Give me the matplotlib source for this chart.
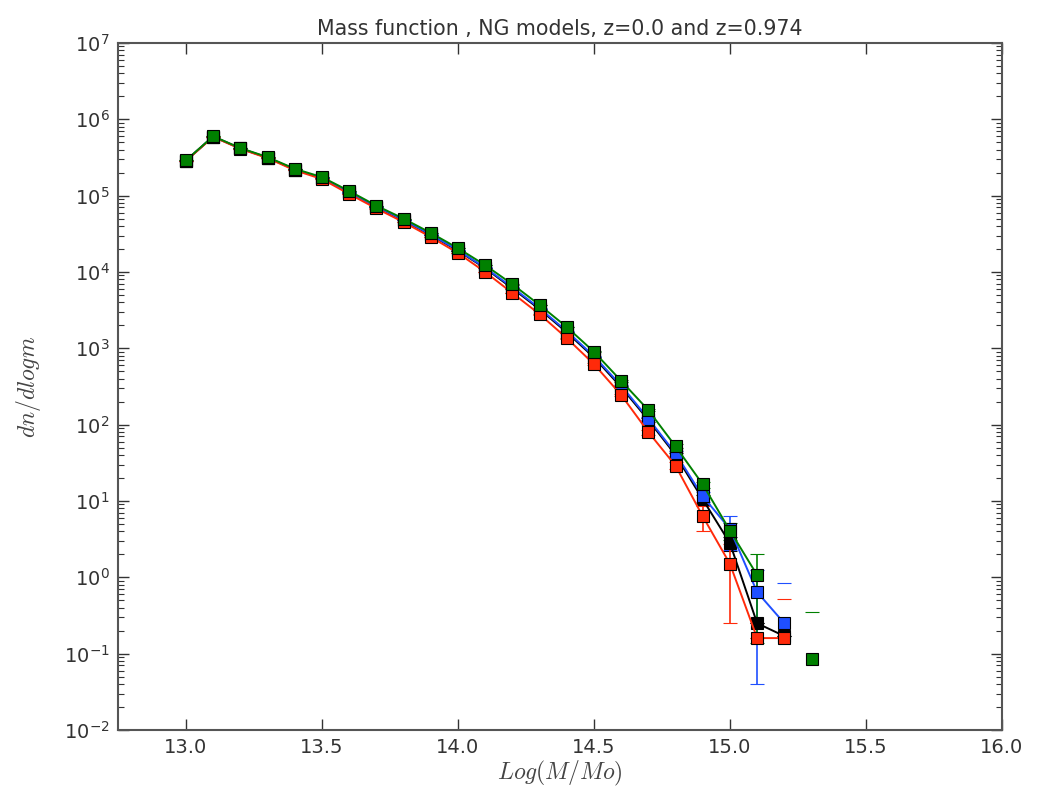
import numpy as np
import matplotlib
matplotlib.use("Agg")
import matplotlib.pyplot as plt
from matplotlib.ticker import FormatStrFormatter, LogLocator

plt.rcParams["mathtext.fontset"] = "cm"
plt.rcParams["font.family"] = "DejaVu Sans"

# log mass bins
log_m = [13.0, 13.1, 13.2, 13.3, 13.4, 13.5, 13.6, 13.7, 13.8, 13.9, 14.0, 14.1,
         14.2, 14.3, 14.4, 14.5, 14.6, 14.7, 14.8, 14.9, 15.0, 15.1, 15.2]
log_m_green = log_m + [15.3]

# dn/dlogm for each model
black = [2.88e5, 5.95e5, 4.15e5, 3.15e5, 2.2e5, 1.7e5, 1.1e5, 7.1e4, 4.75e4, 3.05e4,
         1.9e4, 1.12e4, 6.1e3, 3.25e3, 1.62e3, 760, 310, 115, 40, 10.5, 2.8, 0.25, 0.17]
blue = [2.88e5, 5.95e5, 4.15e5, 3.15e5, 2.2e5, 1.7e5, 1.1e5, 7.2e4, 4.8e4, 3.1e4,
        1.93e4, 1.14e4, 6.3e3, 3.35e3, 1.68e3, 790, 325, 120, 42, 11.5, 4.3, 0.64, 0.25]
red = [2.85e5, 5.9e5, 4.1e5, 3.1e5, 2.15e5, 1.65e5, 1.05e5, 6.8e4, 4.5e4, 2.87e4,
       1.77e4, 1.0e4, 5.3e3, 2.8e3, 1.36e3, 620, 245, 80, 29, 6.3, 1.5, 0.16, 0.16]
green = [2.9e5, 6.0e5, 4.2e5, 3.2e5, 2.25e5, 1.75e5, 1.15e5, 7.4e4, 5.0e4, 3.25e4,
         2.05e4, 1.23e4, 6.9e3, 3.7e3, 1.9e3, 900, 375, 155, 52, 16.5, 4.1, 1.07, np.nan, 0.085]

# error bars
black_err = [300, 500, 400, 350, 300, 250, 200, 160, 130, 100,
             80, 60, 45, 32, 23, 15, 10, 6, 3, 1.5, 0.6, 0.0, 0.0]
blue_err = [300, 500, 400, 350, 300, 250, 200, 160, 130, 100,
            80, 60, 45, 32, 23, 15, 10, 6, 3, 1.8, 2.0, 0.6, 0.59]
red_err = [300, 500, 400, 350, 300, 250, 200, 160, 130, 100,
           80, 60, 45, 32, 23, 15, 10, 6, 3, 2.3, 1.25, 0.0, 0.36]
green_err = [300, 500, 400, 350, 300, 250, 200, 160, 130, 100,
             80, 60, 45, 32, 23, 15, 10, 6, 3, 1.5, 1.0, 0.93, np.nan, 0.265]

fig = plt.figure(figsize=(10.45, 7.96), dpi=100)
ax = fig.add_axes([0.1129, 0.0829, 0.8459, 0.8631])
ax.set_yscale("log", nonpositive="mask")

series = [
    (log_m, black, black_err, "black"),
    (log_m, blue, blue_err, "#1f4fff"),
    (log_m, red, red_err, "#ff2a0a"),
    (log_m_green, green, green_err, "green"),
]
for x, y, e, c in series:
    ax.errorbar(x, y, yerr=e, color=c, marker="s", markersize=9,
                markerfacecolor=c, markeredgecolor="black", markeredgewidth=0.8,
                linewidth=1.4, elinewidth=1.2, capsize=5, capthick=1.2)

ax.set_xlim(12.75, 16.0)
ax.set_ylim(1e-2, 1e7)
ax.set_xticks([13.0, 13.5, 14.0, 14.5, 15.0, 15.5, 16.0])
ax.xaxis.set_major_formatter(FormatStrFormatter("%.1f"))
ax.yaxis.set_major_locator(LogLocator(base=10, numticks=20))
ax.yaxis.set_minor_locator(LogLocator(base=10, subs=np.arange(2, 10), numticks=20))

ax.tick_params(which="both", direction="in", top=True, right=True, colors="#333333",
               labelsize=14, labelcolor="#333333")
ax.tick_params(which="major", length=8, width=1)
ax.tick_params(which="minor", length=4, width=0.8)
ax.tick_params(axis="x", pad=6)
ax.tick_params(axis="y", pad=6)
for s in ax.spines.values():
    s.set_linewidth(1.5)
    s.set_color("#555555")

ax.set_title("Mass function , NG models, z=0.0 and z=0.974", fontsize=14.8,
             color="#333333", pad=6)
ax.set_xlabel("$Log(M/Mo)$", fontsize=17, color="#444444", labelpad=1)
ax.set_ylabel("$dn/dlogm$", fontsize=17, color="#444444", labelpad=15)

fig.savefig("out.png", dpi=100)
